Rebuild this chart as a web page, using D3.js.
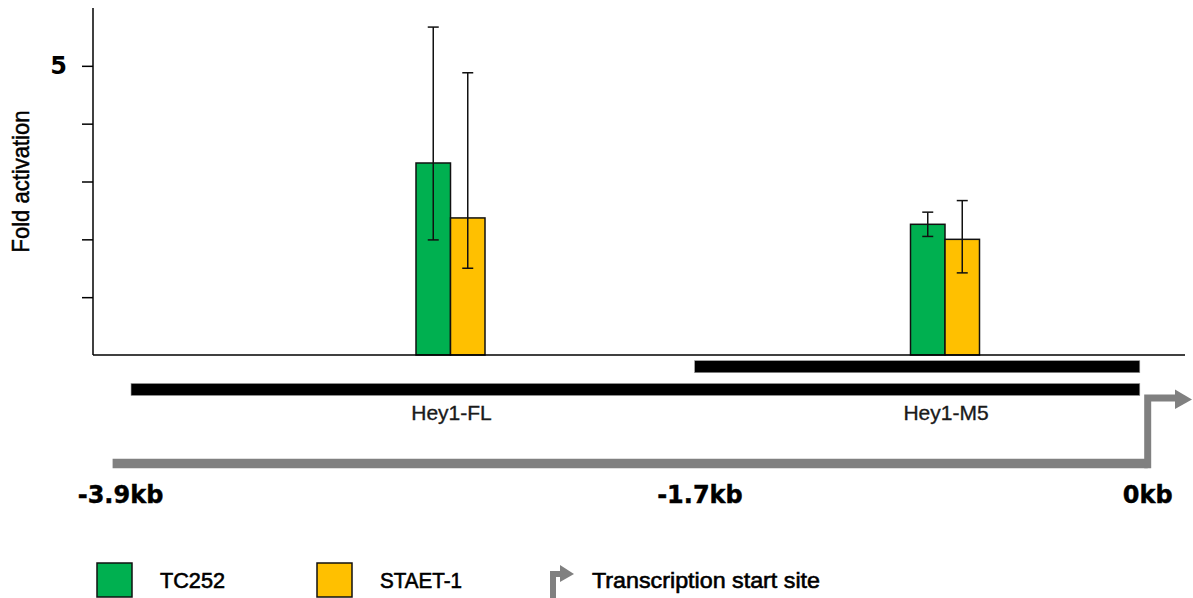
<!DOCTYPE html>
<html>
<head>
<meta charset="utf-8">
<script src="https://cdn.jsdelivr.net/npm/d3@7"></script>
<style>
  html, body { margin: 0; padding: 0; background: #fff; }
  svg { display: block; }
  .sans { font-family: "Liberation Sans", Arial, sans-serif; }
  .heavy { font-family: "DejaVu Sans", sans-serif; font-weight: bold; }
</style>
</head>
<body>
<svg id="chart" width="1193" height="598"></svg>
<script>
// Reporter constructs (x categories) and the two cell lines (series)
const constructs = ["Hey1-FL", "Hey1-M5"];
const series = ["TC252", "STAET-1"];

// Fold activation: mean, lower and upper error bar ends
const tc252 = [3.32, 2.26];
const tc252Low = [1.99, 2.05];
const tc252High = [5.67, 2.47];
const staet1 = [2.37, 2.00];
const staet1Low = [1.50, 1.42];
const staet1High = [4.88, 2.67];

// Y axis ticks
const yTicks = [1, 2, 3, 4, 5];
const yTickLabels = ["", "", "", "", "5"];

// Promoter map in kb relative to the transcription start site
const kbTicks = [-3.9, -1.7, 0];
const kbTickLabels = ["-3.9kb", "-1.7kb", "0kb"];
const constructStart = [-3.86, -1.72];
const constructEnd = [-0.03, -0.03];
const promoterStart = -3.93;
const tssPosition = 0;

const colors = { "TC252": "#00B050", "STAET-1": "#FFC000" };
const grey = "#808080";

const svg = d3.select("#chart");

// Layout
const plot = { left: 93, right: 1185, top: 8, bottom: 355 };

const y = d3.scaleLinear().domain([0, 6]).range([plot.bottom, plot.top]);
const kb = d3.scaleLinear().domain([-3.9, 0]).range([120.5, 1147.7]);
const xGroup = d3.scalePoint().domain(constructs).range([450.5, 945]);
const xSeries = d3.scaleBand().domain(series).range([-34.5, 34.5]);

const rows = constructs.map((c, i) => ({
  construct: c,
  bars: [
    { s: "TC252", v: tc252[i], lo: tc252Low[i], hi: tc252High[i] },
    { s: "STAET-1", v: staet1[i], lo: staet1Low[i], hi: staet1High[i] }
  ]
}));

// Y axis
const yAxis = d3.axisLeft(y)
  .tickValues(yTicks)
  .tickSize(11)
  .tickPadding(15)
  .tickFormat((d, i) => yTickLabels[i]);
const gy = svg.append("g")
  .attr("transform", `translate(${plot.left},0)`)
  .call(yAxis);
gy.select(".domain").remove();
gy.selectAll(".tick line").attr("stroke", "#000").attr("stroke-width", 1.5);
gy.selectAll(".tick text")
  .attr("class", "heavy")
  .attr("font-size", 24)
  .attr("fill", "#000");
svg.append("line")
  .attr("x1", plot.left).attr("x2", plot.left)
  .attr("y1", y(6)).attr("y2", y(0))
  .attr("stroke", "#000").attr("stroke-width", 1.5);

svg.append("text")
  .attr("class", "sans")
  .attr("transform", `translate(29,${(y(0) + y(6)) / 2}) rotate(-90)`)
  .attr("text-anchor", "middle")
  .attr("font-size", 24)
  .attr("textLength", 142)
  .attr("lengthAdjust", "spacingAndGlyphs")
  .attr("fill", "#000")
  .attr("stroke", "#000")
  .attr("stroke-width", 0.5)
  .text("Fold activation");

// Bars
const groups = svg.append("g").selectAll("g")
  .data(rows)
  .join("g")
  .attr("transform", d => `translate(${xGroup(d.construct)},0)`);

groups.selectAll("rect")
  .data(d => d.bars)
  .join("rect")
  .attr("x", d => xSeries(d.s))
  .attr("width", xSeries.bandwidth())
  .attr("y", d => y(d.v))
  .attr("height", d => y(0) - y(d.v))
  .attr("fill", d => colors[d.s])
  .attr("stroke", "#111")
  .attr("stroke-width", 1.5);

// Error bars
const capHalf = 5.5;
const eb = groups.selectAll("g.err")
  .data(d => d.bars)
  .join("g")
  .attr("class", "err")
  .attr("transform", d => `translate(${xSeries(d.s) + xSeries.bandwidth() / 2},0)`)
  .attr("stroke", "#111")
  .attr("stroke-width", 1.5);
eb.append("line").attr("y1", d => y(d.lo)).attr("y2", d => y(d.hi));
eb.append("line").attr("x1", -capHalf).attr("x2", capHalf).attr("y1", d => y(d.hi)).attr("y2", d => y(d.hi));
eb.append("line").attr("x1", -capHalf).attr("x2", capHalf).attr("y1", d => y(d.lo)).attr("y2", d => y(d.lo));

// X baseline
svg.append("line")
  .attr("x1", plot.left).attr("x2", plot.right)
  .attr("y1", y(0)).attr("y2", y(0))
  .attr("stroke", "#000").attr("stroke-width", 1.5);

// Construct fragments on the promoter map
const fragmentRowY = [389.5, 366.7];
svg.append("g").selectAll("rect")
  .data(constructs)
  .join("rect")
  .attr("x", (d, i) => kb(constructStart[i]))
  .attr("width", (d, i) => kb(constructEnd[i]) - kb(constructStart[i]))
  .attr("y", (d, i) => fragmentRowY[i] - 6)
  .attr("height", 12)
  .attr("fill", "#000")
  .attr("stroke", "#999")
  .attr("stroke-width", 0.6);

svg.append("g").selectAll("text")
  .data(constructs)
  .join("text")
  .attr("class", "sans")
  .attr("x", d => xGroup(d) + 1)
  .attr("y", 420)
  .attr("text-anchor", "middle")
  .attr("font-size", 21)
  .attr("fill", "#1a1a1a")
  .attr("stroke", "#1a1a1a")
  .attr("stroke-width", 0.35)
  .text(d => d);

// Promoter line and transcription start site arrow
const lineY = 463.5, armY = 398;
svg.append("path")
  .attr("d", `M${kb(promoterStart)},${lineY} H${kb(tssPosition)}`)
  .attr("stroke", grey).attr("stroke-width", 9.5).attr("fill", "none");
svg.append("path")
  .attr("d", `M${kb(tssPosition)},${lineY + 4.75} V${armY} H1177`)
  .attr("stroke", grey).attr("stroke-width", 7).attr("fill", "none")
  .attr("stroke-linejoin", "miter");
svg.append("path")
  .attr("d", `M1175,${armY - 8.5} L1192,${armY + 1.5} L1175,${armY + 11} Z`)
  .attr("fill", grey);

// kb labels
svg.append("g").selectAll("text")
  .data(kbTicks)
  .join("text")
  .attr("class", "heavy")
  .attr("x", d => kb(d))
  .attr("y", 503)
  .attr("text-anchor", "middle")
  .attr("font-size", 24)
  .attr("fill", "#000")
  .attr("stroke", "#000")
  .attr("stroke-width", 0.4)
  .text((d, i) => kbTickLabels[i]);

// Legend
const legendItems = [
  { label: "TC252", x: 97, type: "box", color: colors["TC252"], w: 65 },
  { label: "STAET-1", x: 317, type: "box", color: colors["STAET-1"], w: 82 },
  { label: "Transcription start site", x: 548, type: "arrow", w: 228 }
];
const lg = svg.append("g").selectAll("g")
  .data(legendItems)
  .join("g")
  .attr("transform", d => `translate(${d.x},563)`);
lg.filter(d => d.type === "box").append("rect")
  .attr("width", 35).attr("height", 34)
  .attr("fill", d => d.color)
  .attr("stroke", "#111").attr("stroke-width", 1.5);
const arrowIcon = lg.filter(d => d.type === "arrow");
arrowIcon.append("path")
  .attr("d", "M5,36 V11 H13")
  .attr("stroke", grey).attr("stroke-width", 6).attr("fill", "none");
arrowIcon.append("path")
  .attr("d", "M12,2 L26,11 L12,19 Z")
  .attr("fill", grey);
lg.append("text")
  .attr("class", "sans")
  .attr("x", d => d.type === "box" ? 63 : 44)
  .attr("y", 25)
  .attr("font-size", 22)
  .attr("textLength", d => d.w)
  .attr("lengthAdjust", "spacingAndGlyphs")
  .attr("fill", "#000")
  .attr("stroke", "#000")
  .attr("stroke-width", 0.6)
  .text(d => d.label);
</script>
</body>
</html>
